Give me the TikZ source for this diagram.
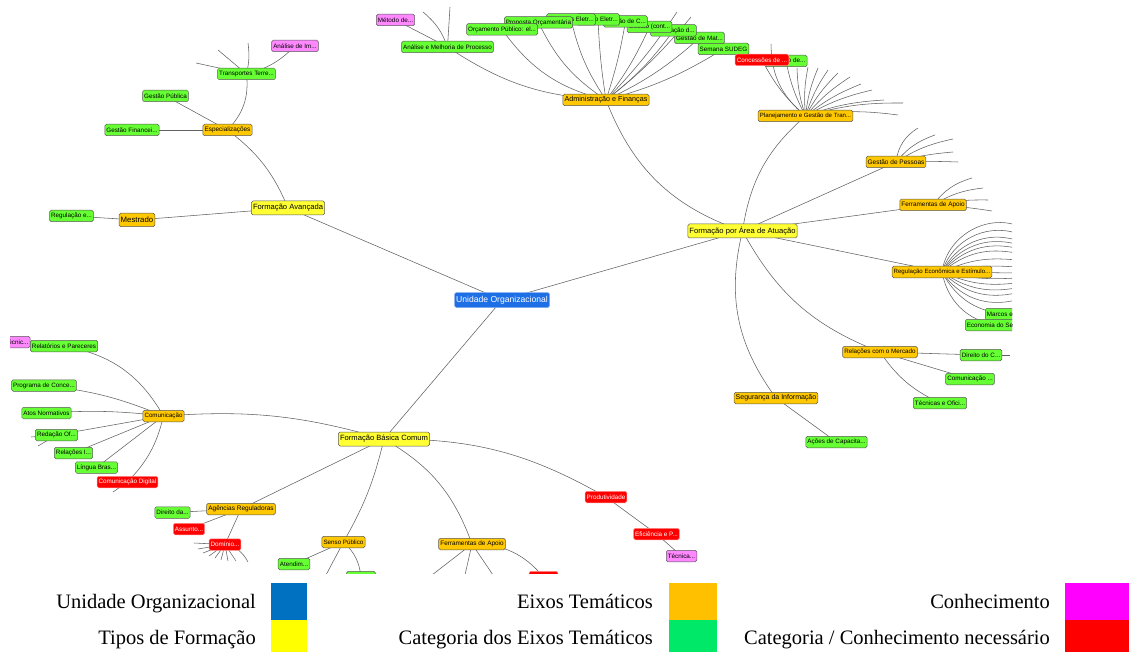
\documentclass[tikz,border=0pt]{standalone}
\usepackage{fontspec}
\setmainfont{Liberation Serif}
\setsansfont{Liberation Sans}
\pgfdeclarelayer{bg}
\pgfsetlayers{bg,main}
\definecolor{cyel}{HTML}{FFFF33}
\definecolor{cora}{HTML}{FFC800}
\definecolor{cgrn}{HTML}{66FF33}
\definecolor{cred}{HTML}{FF0000}
\definecolor{cpnk}{HTML}{FF88FF}
\definecolor{cblu}{HTML}{1E6FE6}
\definecolor{lblu}{HTML}{0070C0}
\definecolor{lyel}{HTML}{FFFF00}
\definecolor{lora}{HTML}{FFC000}
\definecolor{lgrn}{HTML}{00E868}
\definecolor{lmag}{HTML}{FF00FF}
\definecolor{lred}{HTML}{FF0000}
\tikzset{
 nd/.style={draw=black!65, line width=0.5pt, rounded corners=1.6pt, inner xsep=1.6pt, inner ysep=0pt, minimum height=11.5pt, font=\sffamily\fontsize{6.3}{6.3}\selectfont},
 fs/.style={font=\sffamily\fontsize{#1}{#1}\selectfont},
 yel/.style={nd, fill=cyel, minimum height=14pt, fs=7.6},
 ora/.style={nd, fill=cora},
 grn/.style={nd, fill=cgrn},
 rd/.style={nd, fill=cred, text=white, draw=red!45},
 pnk/.style={nd, fill=cpnk},
 blu/.style={nd, fill=cblu, text=white, draw=cblu!55!white, minimum height=15pt, fs=8.6},
 ed/.style={draw=black!62, line width=0.55pt},
 leg/.style={anchor=base east, font=\fontsize{20.5}{20.5}\selectfont, inner sep=0pt},
}
\begin{document}
\begin{tikzpicture}[x=1pt,y=-1pt]
\useasboundingbox (0,0) rectangle (1129,652);
\begin{scope}
\clip (10,0) rectangle (1012,573);
% main
\node[blu] (uo) at (502,300) {Unidade Organizacional};
\node[yel] (fa) at (288,208) {Formação Avançada};
\node[yel] (fpa) at (742.5,231) {Formação por Área de Atuação};
\node[yel] (fbc) at (384,439) {Formação Básica Comum};
% orange
\node[ora,fs=6.4] (esp) at (227.5,130) {Especializações};
\node[ora,fs=7.8,minimum height=13.5pt] (mes) at (137,220) {Mestrado};
\node[ora,fs=7.2] (adm) at (606,100) {Administração e Finanças};
\node[ora,fs=6.1] (plan) at (805.5,116) {Planejamento e Gestão de Tran...};
\node[ora,fs=6.5] (gp) at (896,162) {Gestão de Pessoas};
\node[ora,fs=6.4] (fap) at (933,205) {Ferramentas de Apoio};
\node[ora,fs=6.1] (reg) at (942,272) {Regulação Econômica e Estímulo...};
\node[ora,fs=6.3] (rm) at (880,352) {Relações com o Mercado};
\node[ora,fs=7] (seg) at (776,398) {Segurança da Informação};
\node[ora,fs=6.2] (com) at (163.5,416) {Comunicação};
\node[ora,fs=6.5] (ar) at (241,509) {Agências Reguladoras};
\node[ora,fs=6.25] (sp) at (343.5,542) {Senso Público};
\node[ora,fs=6.4] (fab) at (472,544) {Ferramentas de Apoio};
% upper left
\node[grn] (tt) at (246.5,74) {Transportes Terre...};
\node[pnk] (ai) at (295,46) {Análise de Im...};
\node[grn] (gpu) at (165.5,96) {Gestão Pública};
\node[grn] (gf) at (132,130) {Gestão Financei...};
\node[grn] (re) at (71.5,216) {Regulação e...};
% top
\node[pnk] (md) at (395.5,20) {Método de...};
\node[grn] (amp) at (447.5,47) {Análise e Melhoria de Processo};
\node[grn] (ss) at (723.5,49) {Semana SUDEG};
\node[grn] (gm) at (699.5,38) {Gestão de Mat...};
\node[grn] (el) at (673.5,30.5) {Elaboração d...};
\node[grn] (fc) at (649.5,27) {Gestão (cont...};
\node[grn] (ec) at (625.5,21.5) {Gestão de C...};
\node[grn] (pe) at (598,19.5) {Pregão Eletr...};
\node[grn] (se) at (571,19.5) {Sistemas Eletr...};
\node[grn] (po) at (538.5,22.5) {Proposta Orçamentária};
\node[grn] (op) at (502,29.5) {Orçamento Público: el...};
\node[grn] (ld) at (786,61) {Licitação de...};
\node[rd] (cd) at (762,60) {Concessões de ...};
% left
\node[pnk] (tc) at (16.5,342) {Técnic...};
\node[grn] (rp) at (64,346) {Relatórios e Pareceres};
\node[grn] (pc) at (44,385.5) {Programa de Conce...};
\node[grn] (an) at (46.5,413) {Atos Normativos};
\node[grn] (ro) at (56.5,435) {Redação Of...};
\node[grn] (ri) at (73.5,453) {Relações I...};
\node[grn] (lb) at (96.5,467.5) {Língua Bras...};
\node[rd] (cdg) at (127.5,482) {Comunicação Digital};
% bottom
\node[grn] (dd) at (172.5,512.5) {Direito da...};
\node[rd] (as) at (189,529) {Assunto...};
\node[rd] (dom) at (225,544.5) {Domínio...};
\node[grn] (at) at (294,564) {Atendim...};
\node[grn] (gs) at (361,577) {Gestão...};
\node[rd] (rb) at (543.5,577) {Gestão...};
\node[rd] (prod) at (606,497) {Produtividade};
\node[rd] (ef) at (656.5,534) {Eficiência e P...};
\node[pnk] (tq) at (681.5,556) {Técnica...};
% right
\node[grn] (ac) at (836.5,442) {Ações de Capacita...};
\node[grn] (to) at (940,403) {Técnicas e Ofici...};
\node[grn] (cm) at (970,379) {Comunicação ...};
\node[grn] (dc) at (981,355) {Direito do C...};
\node[grn,anchor=west] (me) at (985,314) {Marcos e Metas};
\node[grn,anchor=west] (es) at (965,325) {Economia do Setor...};
\end{scope}
\begin{pgfonlayer}{bg}
\clip (10,0) rectangle (1012,573);
\draw[ed] (uo.center) -- (fa.center);
\draw[ed] (uo.center) -- (fpa.center);
\draw[ed] (uo.center) -- (fbc.center);
% Formacao Avancada
\draw[ed] (fa.center) to[bend right=15] (esp.center);
\draw[ed] (fa.center) -- (mes.center);
\draw[ed] (mes.center) -- (re.center);
\draw[ed] (esp.center) -- (gpu.center);
\draw[ed] (esp.center) -- (gf.center);
\draw[ed] (esp.center) to[bend right=25] (tt.center);
\draw[ed] (tt.center) to[bend right=15] (ai.center);
\foreach \n/\x/\y/\b in {t1/196/63/0, t2/218/50/0, t3/248/43/10}
  {\coordinate (\n) at (\x,\y); \draw[ed] (tt.center) to[bend right=\b] (\n);}
% Formacao por Area
\draw[ed] (fpa.center) to[bend left=25] (adm.center);
\draw[ed] (fpa.center) to[bend left=20] (plan.center);
\draw[ed] (fpa.center) -- (gp.center);
\draw[ed] (fpa.center) -- (fap.center);
\draw[ed] (fpa.center) -- (reg.center);
\draw[ed] (fpa.center) to[bend right=20] (rm.center);
\draw[ed] (fpa.center) to[bend right=25] (seg.center);
% Administracao
\draw[ed] (adm.center) to[bend left=15] (amp.center);
\draw[ed] (adm.center) to[bend left=20] (op.center);
\draw[ed] (adm.center) to[bend left=15] (po.center);
\draw[ed] (adm.center) to[bend left=10] (se.center);
\draw[ed] (adm.center) to[bend left=3] (pe.center);
\draw[ed] (adm.center) to[bend right=4] (ec.center);
\draw[ed] (adm.center) to[bend right=6] (fc.center);
\draw[ed] (adm.center) to[bend right=8] (el.center);
\draw[ed] (adm.center) to[bend right=8] (gm.center);
\draw[ed] (adm.center) to[bend right=8] (ss.center);
\foreach \n/\x/\y/\b in {d1/677/12/5, d2/691/17/6}
  {\coordinate (\n) at (\x,\y); \draw[ed] (adm.center) to[bend right=\b] (\n);}
\draw[ed] (amp.center) -- (md.center);
\coordinate (a1) at (423,12); \draw[ed] (amp.center) to[bend right=15] (a1);
\coordinate (a2) at (450,7); \draw[ed] (amp.center) -- (a2);
% Planejamento
\draw[ed] (plan.center) to[bend left=10] (cd.center);
\draw[ed] (plan.center) to[bend left=8] (ld.center);
\coordinate (p0) at (771,44); \draw[ed] (plan.center) to[bend left=25] (p0);
\foreach \n/\x/\y in {p1/797/68, p2/808/67, p3/818/68, p4/828/70, p5/838/73, p6/850/77, p7/861/84, p8/872/90, p9/884/100, p10/903/103, p11/898/115}
  {\coordinate (\n) at (\x,\y); \draw[ed] (plan.center) to[bend left=8] (\n);}
% Gestao de Pessoas
\foreach \n/\x/\y/\b in {g1/918/128/25, g2/935/135/15, g3/953/139/10, g4/953/152/5, g5/958/162/2}
  {\coordinate (\n) at (\x,\y); \draw[ed] (gp.center) to[bend left=\b] (\n);}
% Ferramentas de Apoio (right)
\foreach \n/\x/\y/\b in {f1/972/178/18, f2/983/188/12, f3/988/200/6, f4/992/211/3}
  {\coordinate (\n) at (\x,\y); \draw[ed] (fap.center) to[bend left=\b] (\n);}
% Regulacao
\foreach \n/\y/\b in {r1/225/50, r2/233/45, r3/240/40, r4/244/35, r5/248/30, r6/253/25, r7/260/15, r8/267/8}
  {\coordinate (\n) at (1016,\y); \draw[ed] (reg.center) to[bend left=\b] (\n);}
\coordinate (r9) at (1016,273); \draw[ed] (reg.center) -- (r9);
\foreach \n/\y/\b in {r10/278/8, r11/283/15, r12/288/22, r13/293/28, r14/300/35}
  {\coordinate (\n) at (1016,\y); \draw[ed] (reg.center) to[bend right=\b] (\n);}
\draw[ed] (reg.center) to[bend right=30] (me.center);
\draw[ed] (reg.center) to[bend right=35] (es.center);
% Relacoes com o Mercado
\draw[ed] (rm.center) -- (dc.center);
\draw[ed] (rm.center) -- (cm.center);
\draw[ed] (rm.center) to[bend right=15] (to.center);
\coordinate (x1) at (1010,355); \draw[ed] (dc.center) -- (x1);
\draw[ed] (seg.center) -- (ac.center);
% Formacao Basica Comum
\draw[ed] (fbc.center) to[bend right=10] (com.center);
\draw[ed] (fbc.center) -- (ar.center);
\draw[ed] (fbc.center) to[bend left=8] (sp.center);
\draw[ed] (fbc.center) to[bend left=20] (fab.center);
\draw[ed] (fbc.center) to[bend left=15] (prod.center);
\draw[ed] (prod.center) -- (ef.center);
\draw[ed] (ef.center) -- (tq.center);
% Comunicacao
\draw[ed] (com.center) to[bend right=25] (rp.center);
\draw[ed] (rp.center) -- (tc.center);
\draw[ed] (com.center) to[bend right=8] (pc.center);
\draw[ed] (com.center) to[bend right=5] (an.center);
\draw[ed] (com.center) -- (ro.center);
\draw[ed] (com.center) -- (ri.center);
\draw[ed] (com.center) -- (lb.center);
\draw[ed] (com.center) to[bend left=15] (cdg.center);
\coordinate (o1) at (31,437); \draw[ed] (ro.center) -- (o1);
\coordinate (o2) at (38,446); \draw[ed] (ro.center) -- (o2);
\coordinate (o3) at (113,492); \draw[ed] (cdg.center) -- (o3);
% Agencias
\draw[ed] (ar.center) -- (dd.center);
\draw[ed] (ar.center) -- (as.center);
\draw[ed] (ar.center) -- (dom.center);
\foreach \n/\x/\y in {m1/194/543, m2/198/549, m3/203/553, m4/209/556, m5/215/558, m6/221/560, m7/228/561, m8/236/561}
  {\coordinate (\n) at (\x,\y); \draw[ed] (dom.center) -- (\n);}
\coordinate (m9) at (248,562); \draw[ed] (dom.center) to[bend left=25] (m9);
% Senso Publico
\draw[ed] (sp.center) -- (at.center);
\coordinate (s1) at (326,575); \draw[ed] (sp.center) -- (s1);
\draw[ed] (sp.center) to[bend left=20] (gs.center);
% Ferramentas (bottom)
\foreach \n/\x in {b1/432, b2/465, b3/493}
  {\coordinate (\n) at (\x,575); \draw[ed] (fab.center) -- (\n);}
\draw[ed] (fab.center) to[bend left=25] (rb.center);
\end{pgfonlayer}
% legend
\fill[lblu] (271,583) rectangle (307,619.5);
\fill[lyel] (271,619.5) rectangle (307,652);
\fill[lora] (669,583) rectangle (717,619.5);
\fill[lgrn] (669,619.5) rectangle (717,652);
\fill[lmag] (1065,583) rectangle (1129,619.5);
\fill[lred] (1065,619.5) rectangle (1129,652);
\node[leg] (l1) at (256,608) {Unidade Organizacional};
\node[leg] (l2) at (256,644.5) {Tipos de Formação};
\node[leg] (l3) at (653,608) {Eixos Temáticos};
\node[leg] (l4) at (653,644.5) {Categoria dos Eixos Temáticos};
\node[leg] (l5) at (1050,608) {Conhecimento};
\node[leg] (l6) at (1050,644.5) {Categoria / Conhecimento necessário};
\end{tikzpicture}
\end{document}
